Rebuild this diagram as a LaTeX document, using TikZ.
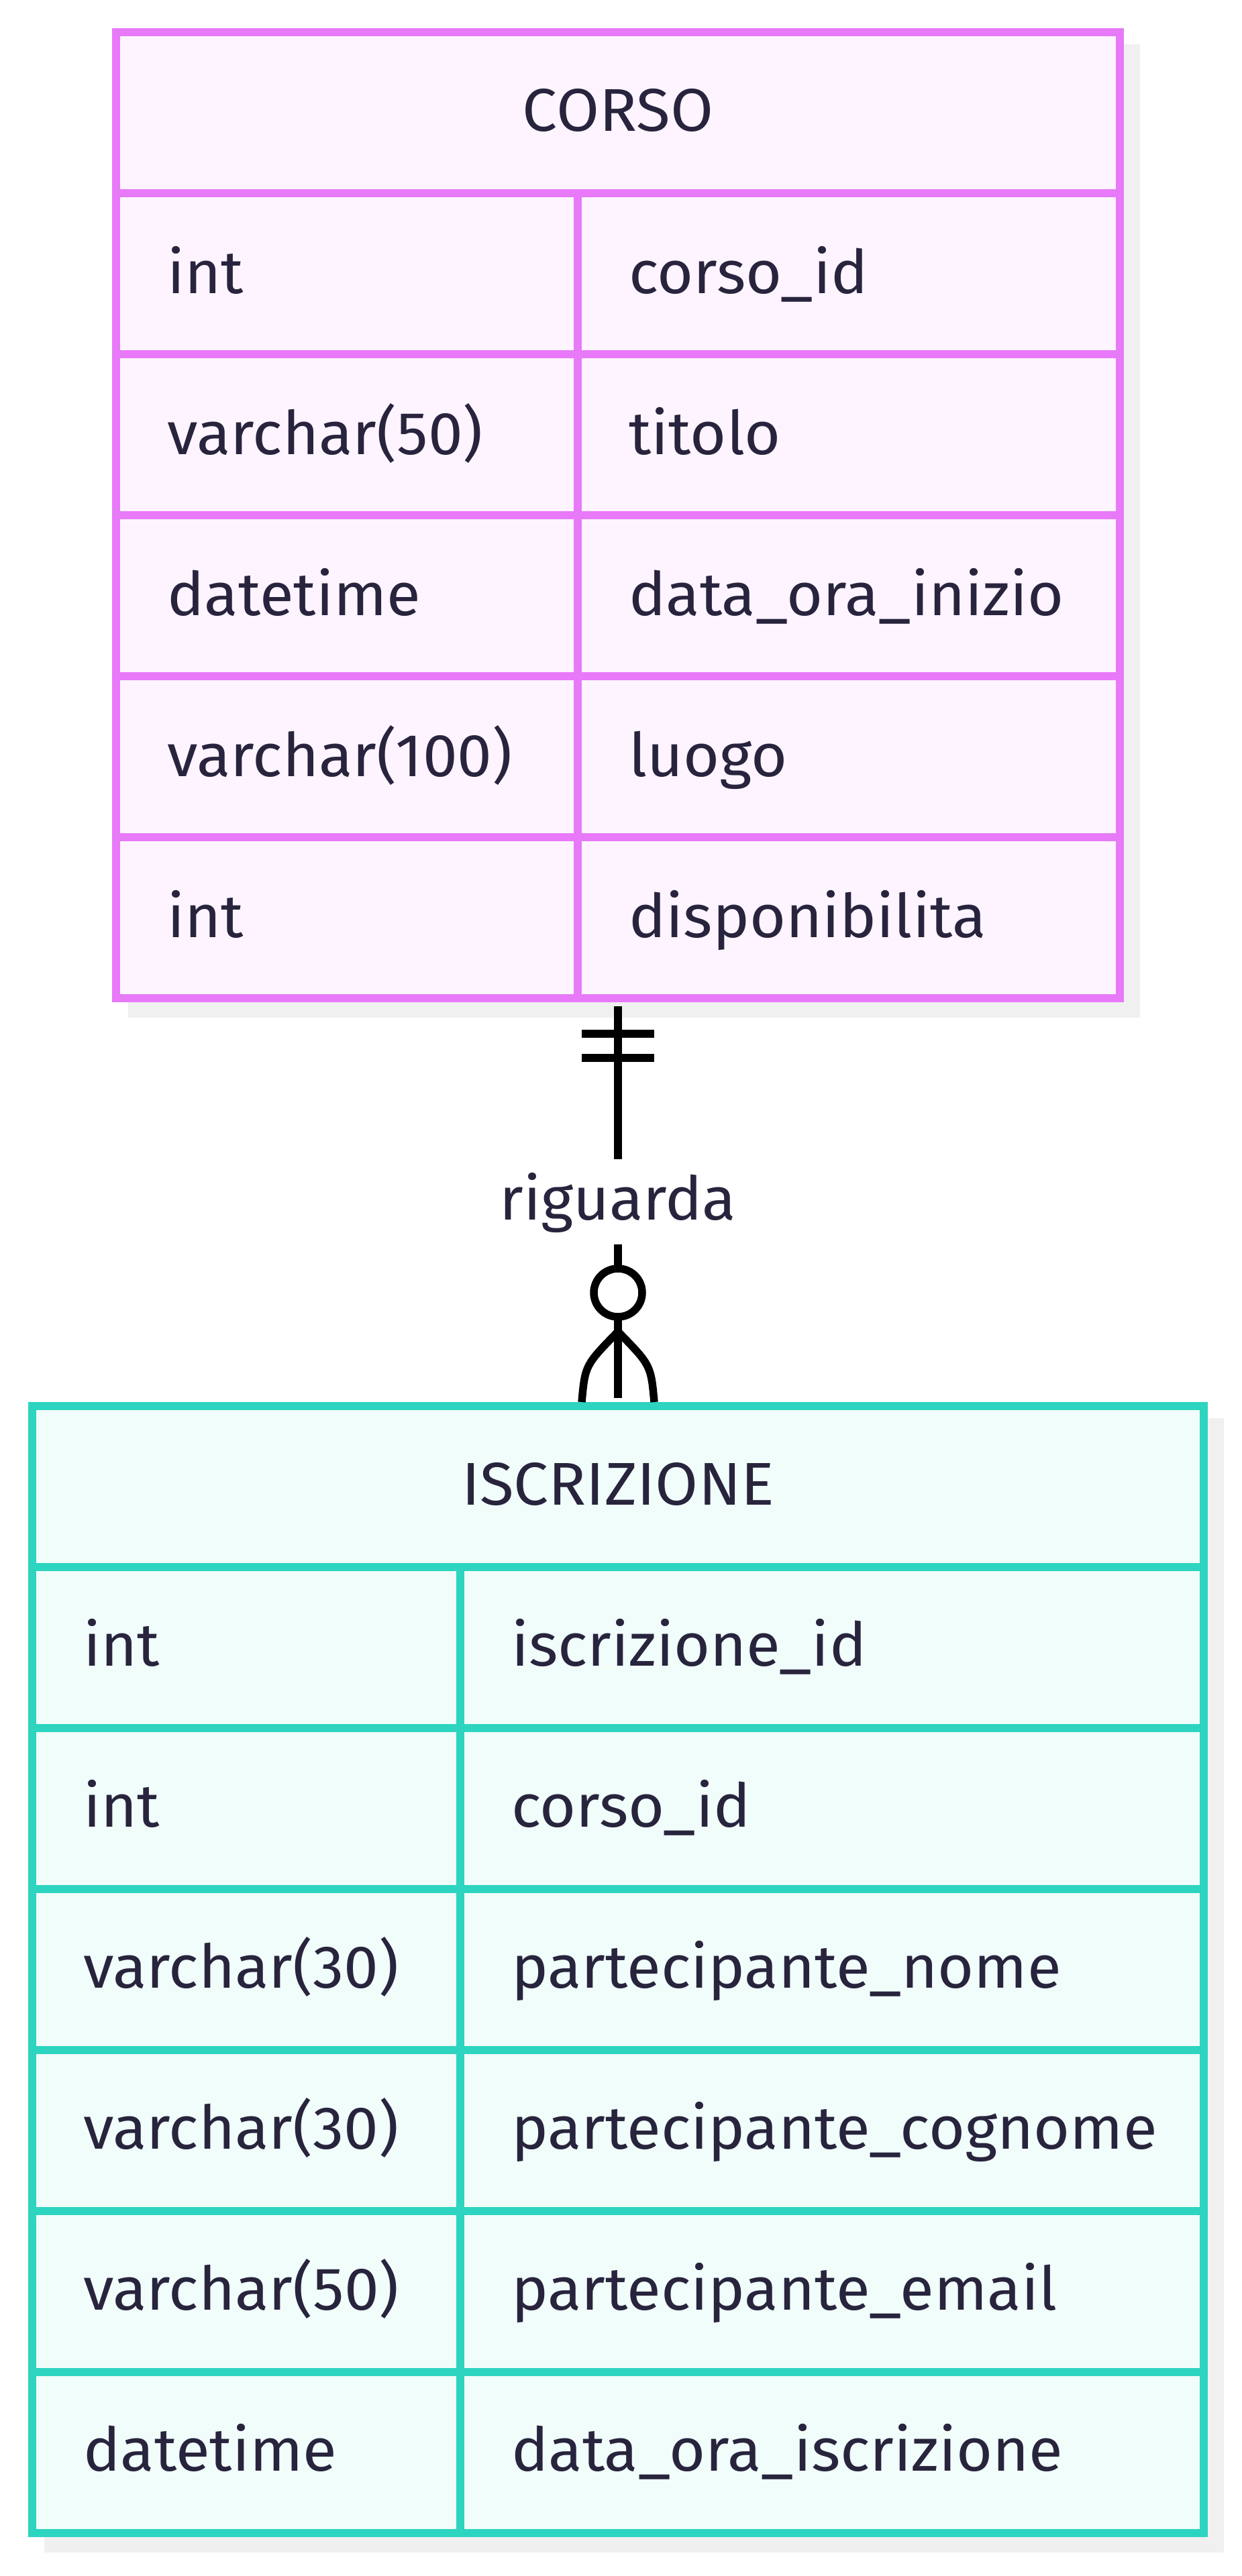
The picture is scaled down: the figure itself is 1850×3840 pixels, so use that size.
\documentclass[tikz,border=0pt]{standalone}
\usepackage{fontspec}
\setmainfont[FakeStretch=1.03]{Fira Sans}
\definecolor{pinkb}{HTML}{E879F9}
\definecolor{pinkf}{HTML}{FDF4FF}
\definecolor{tealb}{HTML}{2DD4BF}
\definecolor{tealf}{HTML}{F0FDFA}
\definecolor{ink}{HTML}{28243D}
\definecolor{shadowgray}{HTML}{F0F0F0}
\begin{document}
\begin{tikzpicture}[x=1pt,y=-1pt,
  txt/.style={inner sep=0pt, text=ink, font=\fontsize{90}{100}\selectfont},
  entA/.style={draw=pinkb, fill=pinkf, line width=12pt, inner sep=0pt, rectangle},
  entB/.style={draw=tealb, fill=tealf, line width=12pt, inner sep=0pt, rectangle},
  gridA/.style={draw=pinkb, line width=12pt},
  gridB/.style={draw=tealb, line width=12pt},
  rel/.style={draw=black, line width=11.5pt},
  lbl/.style={txt, fill=white, text height=90pt, text depth=37pt}
]
\useasboundingbox (0,0) rectangle (1850,3840);
% shadows
\fill[shadowgray] (191,66) rectangle (1699,1517);
\fill[shadowgray] (66,2114) rectangle (1824,3805);
% entities
\node[entA, minimum width=1496pt, minimum height=1440pt] (corso) at (921,768) {};
\node[entB, minimum width=1746pt, minimum height=1680pt] (iscr) at (921,2936) {};
% CORSO grid
\foreach \yy in {288,528,768,1008,1248} \draw[gridA] (173,\yy) -- (1669,\yy);
\draw[gridA] (861,288) -- (861,1488);
\node[txt, anchor=base] (corsoT) at (921,196) {CORSO};
\node[txt, anchor=base west] (c1a) at (249,437) {int};
\node[txt, anchor=base west] (c1b) at (937,437) {corso\_id};
\node[txt, anchor=base west] (c2a) at (249,677) {varchar(50)};
\node[txt, anchor=base west] (c2b) at (937,677) {titolo};
\node[txt, anchor=base west] (c3a) at (249,917) {datetime};
\node[txt, anchor=base west] (c3b) at (937,917) {data\_ora\_inizio};
\node[txt, anchor=base west] (c4a) at (249,1157) {varchar(100)};
\node[txt, anchor=base west] (c4b) at (937,1157) {luogo};
\node[txt, anchor=base west] (c5a) at (249,1397) {int};
\node[txt, anchor=base west] (c5b) at (937,1397) {disponibilita};
% ISCRIZIONE grid
\foreach \yy in {2336,2576,2816,3056,3296,3536} \draw[gridB] (48,\yy) -- (1794,\yy);
\draw[gridB] (686,2336) -- (686,3776);
\node[txt, anchor=base] (iscrT) at (921,2243) {ISCRIZIONE};
\node[txt, anchor=base west] (i1a) at (124,2483) {int};
\node[txt, anchor=base west] (i1b) at (762,2483) {iscrizione\_id};
\node[txt, anchor=base west] (i2a) at (124,2723) {int};
\node[txt, anchor=base west] (i2b) at (762,2723) {corso\_id};
\node[txt, anchor=base west] (i3a) at (124,2963) {varchar(30)};
\node[txt, anchor=base west] (i3b) at (762,2963) {partecipante\_nome};
\node[txt, anchor=base west] (i4a) at (124,3203) {varchar(30)};
\node[txt, anchor=base west] (i4b) at (762,3203) {partecipante\_cognome};
\node[txt, anchor=base west] (i5a) at (124,3443) {varchar(50)};
\node[txt, anchor=base west] (i5b) at (762,3443) {partecipante\_email};
\node[txt, anchor=base west] (i6a) at (124,3683) {datetime};
\node[txt, anchor=base west] (i6b) at (762,3683) {data\_ora\_iscrizione};
% relationship
\node[lbl, anchor=base] (lab) at (921,1818) {riguarda};
\draw[rel, shorten <=6pt] (corso.south) -- (lab.north);
\draw[rel, shorten >=6pt] (lab.south) -- (iscr.north);
% exactly one (two bars)
\draw[rel] (867,1541) -- (975,1541);
\draw[rel] (867,1577) -- (975,1577);
% zero or many
\coordinate (fork) at (921,1985);
\draw[rel] (fork) .. controls (872,2035) .. (867,2090);
\draw[rel] (fork) .. controls (970,2035) .. (975,2090);
\draw[rel, fill=white] (921,1927) circle[radius=36pt];
\end{tikzpicture}
\end{document}
